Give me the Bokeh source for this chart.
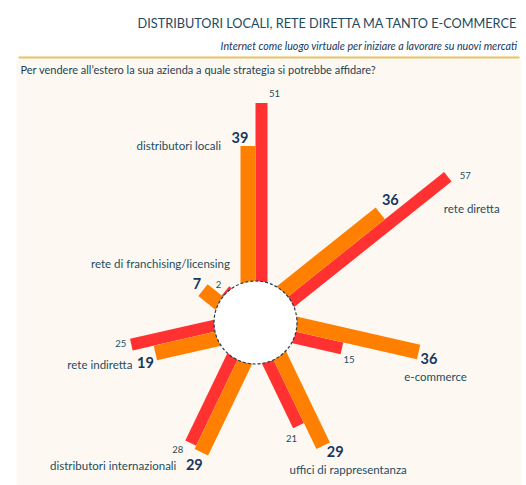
import math
from bokeh.plotting import figure
from bokeh.models import ColumnDataSource, Range1d, Label
from bokeh.embed import file_html
from bokeh.resources import INLINE
from bokeh.core.properties import value

# ---------------- data ----------------
categories = ["distributori locali", "rete diretta", "e-commerce",
              "uffici di rappresentanza", "distributori internazionali",
              "rete indiretta", "rete di franchising/licensing"]
main_values = [39, 36, 36, 29, 29, 19, 7]      # orange bars, bold labels
other_values = [51, 57, 15, 21, 28, 25, 2]     # red bars, small labels

title_text = "DISTRIBUTORI LOCALI, RETE DIRETTA MA TANTO E-COMMERCE"
subtitle_text = "Internet come luogo virtuale per iniziare a lavorare su nuovi mercati"
question_text = "Per vendere all\u2019estero la sua azienda a quale strategia si potrebbe affidare?"

# ---------------- layout / style ----------------
PAGE_W, PAGE_H = 526, 485
def Y(img_y):
    return PAGE_H - img_y

FONT = "Lato"
ORANGE = "#ff8000"
RED = "#ff3131"
TXT = "#244b60"
NUM = "#17375e"
CREAM = "#fdf9f2"

CX, CY = 255, Y(322)
HOLE = 41.5
R0, K = 36.0, 3.6
R_IN = 15
ORANGE_W, RED_W = 15, 12

n = len(categories)
thetas = [math.radians(90 - i * 360 / n) for i in range(n)]

def radius(v):
    return R0 + K * v

def bar_geom(vals, off):
    xs, ys, ws, tips = [], [], [], []
    for th, v in zip(thetas, vals):
        r = radius(v)
        ux, uy = math.cos(th), math.sin(th)
        nx, ny = -uy, ux
        mid = (R_IN + r) / 2
        xs.append(CX + ux * mid + nx * off)
        ys.append(CY + uy * mid + ny * off)
        ws.append(r - R_IN)
        tips.append((CX + ux * r + nx * off, CY + uy * r + ny * off))
    return xs, ys, ws, tips

ox, oy, ow, otips = bar_geom(main_values, ORANGE_W / 2)
rx, ry, rw, rtips = bar_geom(other_values, -RED_W / 2)

p = figure(width=PAGE_W, height=PAGE_H, x_range=Range1d(0, PAGE_W), y_range=Range1d(0, PAGE_H),
           output_backend="svg", toolbar_location=None, min_border=0,
           x_axis_location=None, y_axis_location=None, title=None)
p.grid.grid_line_color = None
p.outline_line_color = None
p.background_fill_color = "white"
p.border_fill_color = "white"

# cream panel and gold rule
p.quad(left=16, right=521, bottom=0, top=Y(58.5), fill_color=CREAM, line_color=None)
p.segment(x0=18, y0=Y(57), x1=519, y1=Y(57), line_color="#e8c25e", line_width=2)

# bars
p.rect(x=rx, y=ry, width=rw, height=RED_W, angle=thetas, fill_color=RED, line_color=None)
p.rect(x=ox, y=oy, width=ow, height=ORANGE_W, angle=thetas, fill_color=ORANGE, line_color=None)

# centre hole
p.circle(x=[CX], y=[CY], radius=HOLE, fill_color="white", line_color="#1f3f55",
         line_dash="3 2", line_width=1.2)

# label placement (image-pixel offsets, y down)
main_off = [(-8, -9, "center"), (10, -14, "center"), (2, 6, "left"), (12, 6, "center"),
            (-7, 12, "center"), (-10, 9, "center"), (-6, -7, "center")]
other_off = [(13, -9, "center"), (12, -1, "left"), (7, 11, "center"), (-7, 13, "center"),
             (-13, 6, "center"), (-5, -1, "right"), (-7, -6, "center")]
cat_off = [("o", -27, -1, "right"), ("r", -4, 32, "left"), ("o", 17, 24, "center"),
           ("o", 25, 24, "center"), ("o", -25, 13, "right"), ("o", -23, 11, "right"),
           ("o", 27, -27, "right")]

def place(tips, offs, texts):
    d = dict(x=[], y=[], t=[], a=[])
    for (tx, ty), (dx, dy, al), s in zip(tips, offs, texts):
        d["x"].append(tx + dx)
        d["y"].append(ty - dy)
        d["t"].append(str(s))
        d["a"].append(al)
    return ColumnDataSource(d)

src_main = place(otips, main_off, main_values)
src_other = place(rtips, other_off, other_values)
cat_tips = [otips[i] if cat_off[i][0] == "o" else rtips[i] for i in range(n)]
src_cat = place(cat_tips, [c[1:] for c in cat_off], categories)

p.text(x="x", y="y", text="t", text_align="a", source=src_main, text_baseline="middle",
       text_font=value(FONT), text_font_style="bold", text_font_size="14.5px", text_color=NUM)
p.text(x="x", y="y", text="t", text_align="a", source=src_other, text_baseline="middle",
       text_font=value(FONT), text_font_size="9.5px", text_color=TXT)
p.text(x="x", y="y", text="t", text_align="a", source=src_cat, text_baseline="middle",
       text_font=value(FONT), text_font_size="11.5px", text_color=TXT)

# titles
p.add_layout(Label(x=517, y=Y(22), text=title_text, text_align="right", text_baseline="middle",
                   text_font=FONT, text_font_size="12.7px", text_color="#24495e"))
p.add_layout(Label(x=517, y=Y(45), text=subtitle_text, text_align="right", text_baseline="middle",
                   text_font=FONT, text_font_style="italic", text_font_size="10.7px",
                   text_color=NUM))
p.add_layout(Label(x=20, y=Y(69), text=question_text, text_align="left", text_baseline="middle",
                   text_font=FONT, text_font_size="11px", text_color="#1f3f55"))

open("out.html", "w").write(file_html(p, INLINE))
